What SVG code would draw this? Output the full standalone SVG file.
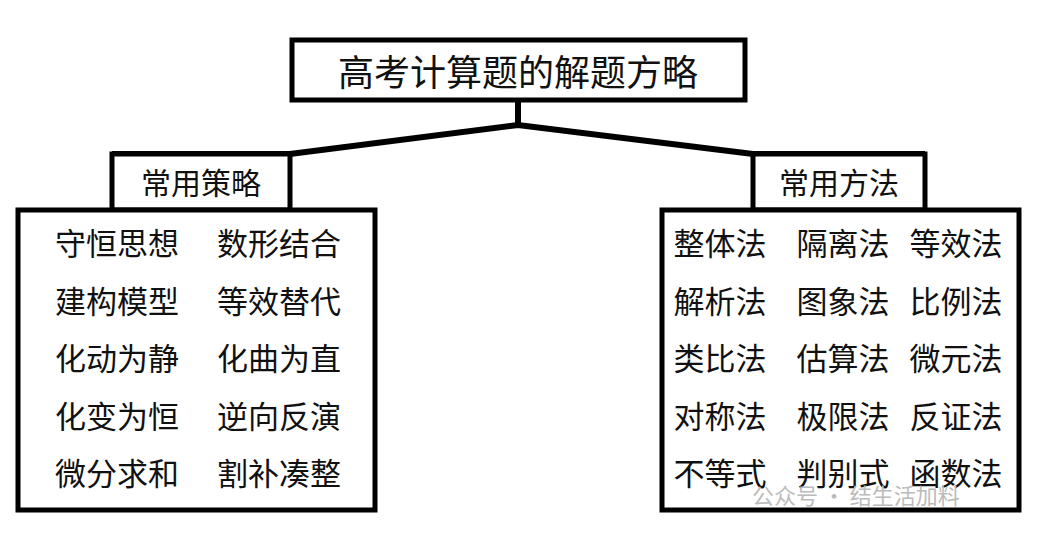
<svg xmlns="http://www.w3.org/2000/svg" width="1044" height="534" viewBox="0 0 1044 534">
<style>
.box{fill:#fff;stroke:#000;stroke-width:5}
text{font-family:"Noto Sans CJK SC",sans-serif;fill:#111;text-anchor:middle}
.t{font-size:36px}.l{font-size:30px}.i{font-size:31px}
.wm{font-size:22px;fill:#bbb;text-anchor:start}
</style>
<rect width="1044" height="534" fill="#fff"/>
<g id="connectors" fill="none" stroke="#000" stroke-width="6">
<polyline points="518,100 518,125"/>
<polyline points="112,154 290,154 518,125 753,154 925,154"/>
</g>
<g id="title"><rect class="box" x="292" y="40" width="453" height="60"/><text class="t" x="518" y="86">高考计算题的解题方略</text></g>
<g id="left-label"><rect class="box" x="112" y="154" width="178" height="56"/><text class="l" x="201" y="194">常用策略</text></g>
<g id="right-label"><rect class="box" x="753" y="154" width="172" height="56"/><text class="l" x="839" y="194">常用方法</text></g>
<g id="left-box"><rect class="box" x="18" y="210" width="357" height="300"/>
<text class="i" x="117" y="255">守恒思想</text><text class="i" x="279" y="255">数形结合</text>
<text class="i" x="117" y="313">建构模型</text><text class="i" x="279" y="313">等效替代</text>
<text class="i" x="117" y="370">化动为静</text><text class="i" x="279" y="370">化曲为直</text>
<text class="i" x="117" y="428">化变为恒</text><text class="i" x="279" y="428">逆向反演</text>
<text class="i" x="117" y="485">微分求和</text><text class="i" x="279" y="485">割补凑整</text>
</g>
<g id="right-box"><rect class="box" x="662" y="210" width="357" height="300"/>
<text class="i" x="720" y="255">整体法</text><text class="i" x="843" y="255">隔离法</text><text class="i" x="956" y="255">等效法</text>
<text class="i" x="720" y="313">解析法</text><text class="i" x="843" y="313">图象法</text><text class="i" x="956" y="313">比例法</text>
<text class="i" x="720" y="370">类比法</text><text class="i" x="843" y="370">估算法</text><text class="i" x="956" y="370">微元法</text>
<text class="i" x="720" y="428">对称法</text><text class="i" x="843" y="428">极限法</text><text class="i" x="956" y="428">反证法</text>
<text class="i" x="720" y="485">不等式</text><text class="i" x="843" y="485">判别式</text><text class="i" x="956" y="485">函数法</text>
</g>
<text class="wm" x="752" y="504">公众号 · 结生活加料</text>
</svg>
